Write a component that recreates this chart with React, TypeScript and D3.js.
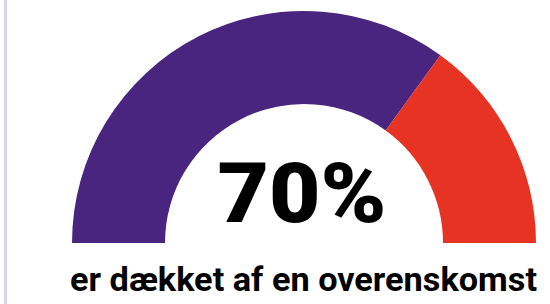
import React from "react";
import * as d3 from "d3";

const labels = ["Dækket", "Ikke dækket"];
const shares = [70, 30];
const colors = ["#4a2580", "#e63323"];
const headline = "70%";
const caption = "er dækket af en overenskomst";

const width = 550;
const height = 304;

export default function App() {
  const cx = 304;
  const cy = 243;
  const outer = 232;
  const inner = 139;

  const pie = d3
    .pie<number>()
    .sort(null)
    .startAngle(-Math.PI / 2)
    .endAngle(Math.PI / 2)(shares);

  const arc = d3.arc<d3.PieArcDatum<number>>().innerRadius(inner).outerRadius(outer);

  return (
    <svg
      width={width}
      height={height}
      style={{ position: "absolute", left: 0, top: 0, background: "#fff" }}
    >
      <line x1={5.5} x2={5.5} y1={0} y2={height} stroke="#d9d2ea" strokeWidth={3} />
      <g transform={`translate(${cx}, ${cy})`}>
        {pie.map((d, i) => (
          <path key={labels[i]} d={arc(d) || ""} fill={colors[i]} />
        ))}
      </g>
      <text
        x={302}
        y={222}
        textAnchor="middle"
        fontFamily="Roboto, sans-serif"
        fontWeight={900}
        fontSize={84}
        textLength={169}
        lengthAdjust="spacingAndGlyphs"
        fill="#000"
      >
        {headline}
      </text>
      <text
        x={303.5}
        y={291}
        textAnchor="middle"
        fontFamily="Roboto, sans-serif"
        fontWeight={700}
        fontSize={34}
        textLength={467}
        lengthAdjust="spacingAndGlyphs"
        fill="#000"
      >
        {caption}
      </text>
    </svg>
  );
}
